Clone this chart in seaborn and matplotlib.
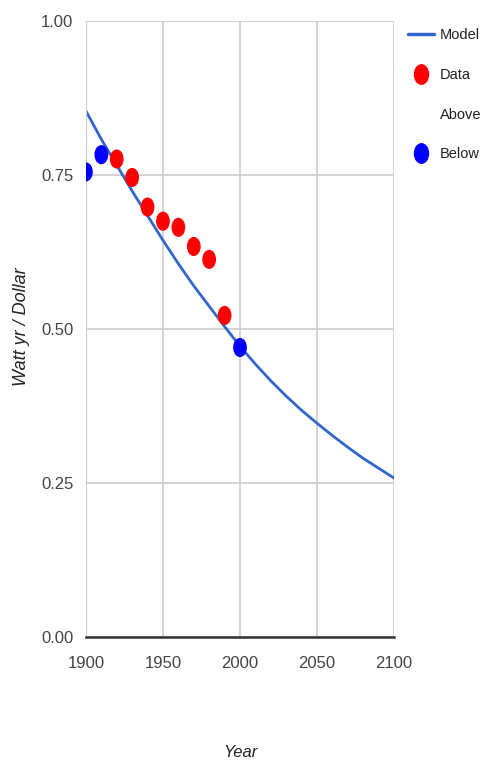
import numpy as np
import pandas as pd
import matplotlib
matplotlib.use('Agg')
import matplotlib.pyplot as plt
from matplotlib.path import Path
from matplotlib.lines import Line2D
import seaborn as sns

# model curve
model_years = [1900, 1910, 1920, 1930, 1940, 1950, 1960, 1970, 1980, 1990, 2000,
               2010, 2020, 2030, 2040, 2050, 2060, 2070, 2080, 2090, 2100]
model_vals = [0.854, 0.808, 0.766, 0.724, 0.684, 0.644, 0.606, 0.570, 0.537, 0.504, 0.472,
              0.443, 0.416, 0.391, 0.368, 0.347, 0.327, 0.308, 0.290, 0.274, 0.258]

# observations
above_years = [1920, 1930, 1940, 1950, 1960, 1970, 1980, 1990]
above_vals = [0.776, 0.746, 0.698, 0.675, 0.665, 0.634, 0.613, 0.522]
below_years = [1900, 1910, 2000]
below_vals = [0.755, 0.783, 0.470]

model = pd.DataFrame({'year': model_years, 'val': model_vals})
pts = pd.DataFrame({'year': above_years + below_years,
                    'val': above_vals + below_vals,
                    'kind': ['Above'] * len(above_years) + ['Below'] * len(below_years)})

sns.set_style('white')
plt.rcParams['font.family'] = ['Liberation Sans', 'DejaVu Sans']

# the reference is stretched vertically, so the dots are ellipses
circ = Path.unit_circle()
ell = Path(circ.vertices * np.array([0.72, 1.0]), circ.codes)

fig = plt.figure(figsize=(4.8, 7.69), dpi=100)
ax = fig.add_axes([0.179, 0.1716, 0.642, 0.8011])

sns.lineplot(data=model, x='year', y='val', color='#3366cc', lw=2, ax=ax, legend=False)
sns.scatterplot(data=pts, x='year', y='val', hue='kind',
                palette={'Above': '#ff0000', 'Below': '#0000ff'},
                marker=ell, s=190, edgecolor='none', ax=ax, legend=False, zorder=5)

ax.set_xlim(1900, 2100)
ax.set_ylim(0, 1)
ax.set_xticks([1900, 1950, 2000, 2050, 2100])
ax.set_yticks([0, 0.25, 0.5, 0.75, 1.0])
ax.set_yticklabels(['0.00', '0.25', '0.50', '0.75', '1.00'])
ax.grid(True, color='#cccccc', lw=1.2)
ax.set_axisbelow(True)
for s in ['top', 'right']:
    ax.spines[s].set_visible(False)
ax.spines['left'].set_color('#cccccc')
ax.spines['bottom'].set_color('#333333')
ax.spines['bottom'].set_linewidth(1.8)
ax.tick_params(axis='both', length=0, labelsize=12, colors='#444444')
ax.tick_params(axis='x', pad=14)
ax.tick_params(axis='y', pad=9)

ax.set_xlabel('Year', fontsize=12, style='italic', color='#222222')
ax.xaxis.set_label_coords(0.5, -0.176)
ax.set_ylabel('Watt yr / Dollar', fontsize=13, style='italic', color='#222222')
ax.yaxis.set_label_coords(-0.18, 0.503)

# "Data Above" wraps onto two lines in the original legend
handles = [Line2D([], [], color='#3366cc', lw=2.5),
           Line2D([], [], ls='none', marker=ell, ms=14, color='#ff0000'),
           Line2D([], [], ls='none', marker='none'),
           Line2D([], [], ls='none', marker=ell, ms=14, color='#0000ff')]
leg = fig.legend(handles, ['Model', 'Data', 'Above', 'Below'], loc='upper left',
                 bbox_to_anchor=(0.85, 0.963), frameon=False, fontsize=10.5,
                 handlelength=1.78, handletextpad=0.4, labelspacing=1.76,
                 borderaxespad=0, borderpad=0)
for t in leg.get_texts():
    t.set_color('#222222')

fig.savefig('out.png', dpi=100)
